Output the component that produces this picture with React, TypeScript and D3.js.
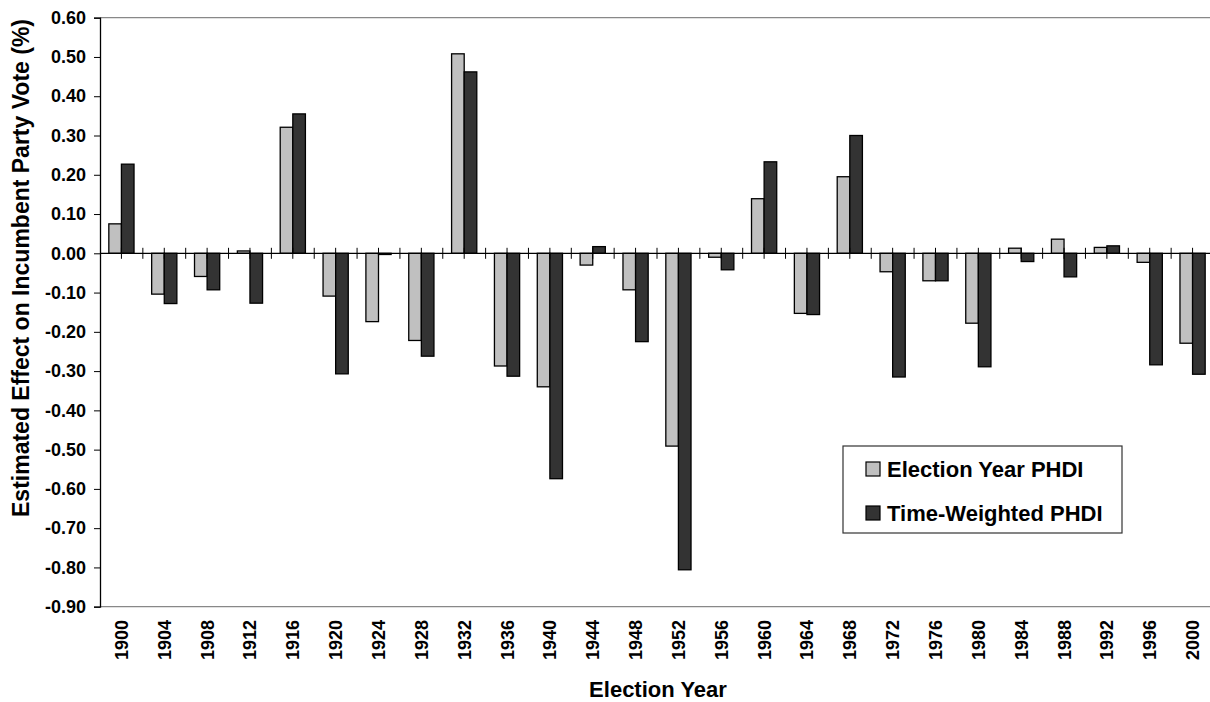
import React, { useEffect, useRef } from 'react';
import * as d3 from 'd3';

const years = [
  '1900', '1904', '1908', '1912', '1916', '1920', '1924', '1928', '1932', '1936', '1940', '1944', '1948',
  '1952', '1956', '1960', '1964', '1968', '1972', '1976', '1980', '1984', '1988', '1992', '1996', '2000',
];

const electionYearPHDI = [
  0.075, -0.104, -0.059, 0.006, 0.321, -0.109, -0.174, -0.222, 0.508, -0.287, -0.34, -0.03, -0.093,
  -0.491, -0.01, 0.139, -0.153, 0.195, -0.047, -0.07, -0.178, 0.013, 0.036, 0.015, -0.023, -0.229,
];

const timeWeightedPHDI = [
  0.227, -0.128, -0.093, -0.127, 0.355, -0.307, -0.003, -0.262, 0.462, -0.313, -0.574, 0.017, -0.225,
  -0.806, -0.042, 0.233, -0.156, 0.3, -0.315, -0.07, -0.289, -0.021, -0.06, 0.019, -0.284, -0.308,
];

const seriesNames = ['Election Year PHDI', 'Time-Weighted PHDI'];
const seriesColors = ['#c0c0c0', '#333333'];
const yTicks = [0.6, 0.5, 0.4, 0.3, 0.2, 0.1, 0, -0.1, -0.2, -0.3, -0.4, -0.5, -0.6, -0.7, -0.8, -0.9];

const FONT = '"Liberation Sans", Arial, sans-serif';

export default function App() {
  const svgRef = useRef<SVGSVGElement | null>(null);

  useEffect(() => {
    document.body.style.margin = '0';
    if (!svgRef.current) return;
    const width = 1210;
    const height = 702;
    const plot = { left: 100, right: 1214, top: 17.7, bottom: 606.7 };

    const svg = d3.select(svgRef.current);
    svg.selectAll('*').remove();
    svg.attr('width', width).attr('height', height).attr('viewBox', `0 0 ${width} ${height}`);

    svg.append('rect').attr('width', width).attr('height', height).attr('fill', '#ffffff');

    const x0 = d3.scaleBand().domain(years).range([plot.left, plot.right]).padding(0);
    const groupW = 25.2;
    const x1 = d3
      .scaleBand()
      .domain(seriesNames)
      .range([(x0.bandwidth() - groupW) / 2, (x0.bandwidth() + groupW) / 2])
      .padding(0);
    const y = d3.scaleLinear().domain([-0.9, 0.6]).range([plot.bottom, plot.top]);

    // plot frame (top / bottom gray)
    svg
      .append('line')
      .attr('x1', plot.left)
      .attr('x2', width)
      .attr('y1', plot.top)
      .attr('y2', plot.top)
      .attr('stroke', '#888888')
      .attr('stroke-width', 1.3);
    svg
      .append('line')
      .attr('x1', plot.left)
      .attr('x2', width)
      .attr('y1', plot.bottom)
      .attr('y2', plot.bottom)
      .attr('stroke', '#888888')
      .attr('stroke-width', 1.3);

    // bars
    const table = years.map((yr, i) => ({
      year: yr,
      values: [electionYearPHDI[i], timeWeightedPHDI[i]],
    }));
    const groups = svg
      .append('g')
      .selectAll('g')
      .data(table)
      .enter()
      .append('g')
      .attr('transform', (d) => `translate(${x0(d.year)},0)`);

    groups
      .selectAll('rect')
      .data((d) => d.values.map((v, k) => ({ v, k })))
      .enter()
      .append('rect')
      .attr('x', (d) => x1(seriesNames[d.k]) || 0)
      .attr('width', x1.bandwidth())
      .attr('y', (d) => Math.min(y(d.v), y(0)))
      .attr('height', (d) => Math.abs(y(d.v) - y(0)))
      .attr('fill', (d) => seriesColors[d.k])
      .attr('stroke', '#000000')
      .attr('stroke-width', 1.3);

    // zero line with crossing ticks at category centers and boundaries
    svg
      .append('line')
      .attr('x1', plot.left)
      .attr('x2', width)
      .attr('y1', y(0))
      .attr('y2', y(0))
      .attr('stroke', '#000000')
      .attr('stroke-width', 1.2);
    const tickXs: number[] = [];
    years.forEach((yr) => {
      const bx = x0(yr) || 0;
      tickXs.push(bx + x0.bandwidth() / 2);
      if (bx > plot.left) tickXs.push(bx);
    });
    svg
      .append('g')
      .selectAll('line')
      .data(tickXs)
      .enter()
      .append('line')
      .attr('x1', (d) => d)
      .attr('x2', (d) => d)
      .attr('y1', y(0) - 5.5)
      .attr('y2', y(0) + 5.5)
      .attr('stroke', '#000000')
      .attr('stroke-width', 1);

    // y axis
    const yAxis = d3
      .axisLeft(y)
      .tickValues(yTicks)
      .tickSize(6)
      .tickPadding(8)
      .tickFormat((d) => d3.format('.2f')(d as number).replace('−', '-'));
    const yg = svg.append('g').attr('transform', `translate(${plot.left},0)`).call(yAxis);
    yg.select('.domain').attr('stroke', '#000000').attr('stroke-width', 1.3);
    yg.selectAll('line').attr('stroke', '#000000').attr('stroke-width', 1);
    yg.selectAll('text')
      .attr('font-family', FONT)
      .attr('font-size', 18)
      .attr('font-weight', 'bold')
      .attr('fill', '#000000');

    // x tick labels (rotated)
    svg
      .append('g')
      .selectAll('text')
      .data(years)
      .enter()
      .append('text')
      .attr('transform', (d) => `translate(${(x0(d) || 0) + x0.bandwidth() / 2 + 6.5},620) rotate(-90)`)
      .attr('text-anchor', 'end')
      .attr('font-family', FONT)
      .attr('font-size', 18)
      .attr('font-weight', 'bold')
      .attr('fill', '#000000')
      .text((d) => d);

    // axis titles
    svg
      .append('text')
      .attr('transform', 'translate(29,268) rotate(-90)')
      .attr('text-anchor', 'middle')
      .attr('font-family', FONT)
      .attr('font-size', 23)
      .attr('font-weight', 'bold')
      .attr('fill', '#000000')
      .text('Estimated Effect on Incumbent Party Vote (%)');

    svg
      .append('text')
      .attr('x', 658)
      .attr('y', 697)
      .attr('text-anchor', 'middle')
      .attr('font-family', FONT)
      .attr('font-size', 22)
      .attr('font-weight', 'bold')
      .attr('fill', '#000000')
      .text('Election Year');

    // legend
    const legend = svg.append('g');
    legend
      .append('rect')
      .attr('x', 843)
      .attr('y', 446)
      .attr('width', 279)
      .attr('height', 87)
      .attr('fill', '#ffffff')
      .attr('stroke', '#333333')
      .attr('stroke-width', 1.2);
    const rows = legend
      .selectAll('g.row')
      .data(seriesNames)
      .enter()
      .append('g')
      .attr('class', 'row')
      .attr('transform', (_d, i) => `translate(866,${462 + i * 44})`);
    rows
      .append('rect')
      .attr('width', 14)
      .attr('height', 14)
      .attr('fill', (_d, i) => seriesColors[i])
      .attr('stroke', '#000000')
      .attr('stroke-width', 1.2);
    rows
      .append('text')
      .attr('x', 21)
      .attr('y', 14.5)
      .attr('font-family', FONT)
      .attr('font-size', 22)
      .attr('font-weight', 'bold')
      .attr('fill', '#000000')
      .text((d) => d);
  }, []);

  return (
    <div style={{ width: 1210, height: 702, overflow: 'hidden' }}>
      <svg ref={svgRef} style={{ display: 'block' }} />
    </div>
  );
}
